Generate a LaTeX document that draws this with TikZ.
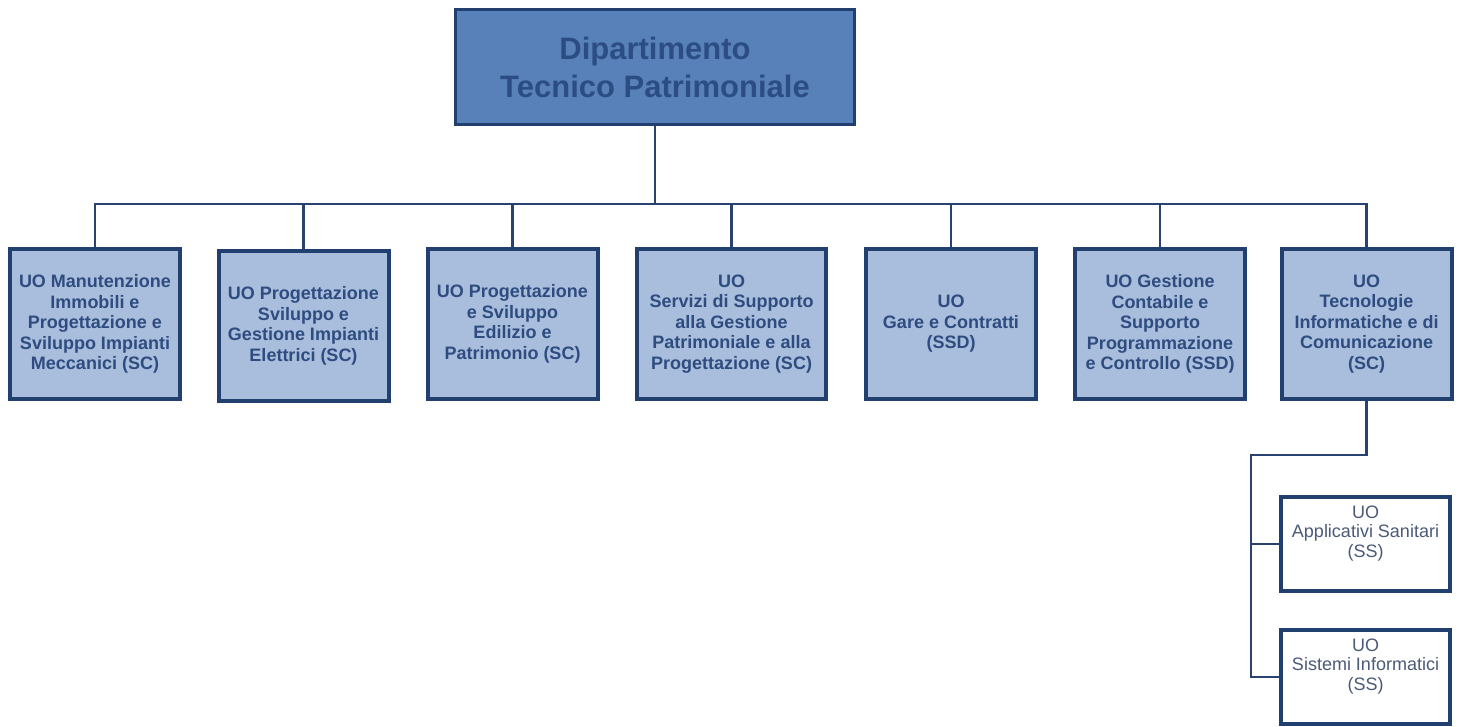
\documentclass[tikz,border=0pt]{standalone}
\usepackage{fontspec}
\setmainfont{Liberation Sans}
\definecolor{deptfill}{HTML}{5881B9}
\definecolor{depttext}{HTML}{2B4D84}
\definecolor{boxline}{HTML}{22406F}
\definecolor{uofill}{HTML}{A9BEDC}
\definecolor{uotext}{HTML}{2E4C80}
\definecolor{sstext}{HTML}{4B5B77}
\definecolor{connline}{HTML}{2A4270}
\begin{document}
\begin{tikzpicture}[x=1pt,y=-1pt,
    dept/.style={draw=boxline,line width=3pt,fill=deptfill,text=depttext,align=center,
        minimum width=399pt,minimum height=115pt,font=\fontsize{31}{38}\selectfont\bfseries},
    uo/.style={draw=boxline,line width=4pt,fill=uofill,text=uotext,align=center,
        minimum width=170pt,minimum height=150pt,inner sep=0pt,font=\fontsize{18}{20.5}\selectfont\bfseries},
    ss/.style={draw=boxline,line width=4pt,fill=white,text=sstext,align=center,
        minimum width=169pt,minimum height=94pt,inner sep=0pt,font=\fontsize{18}{19.5}\selectfont},
    conn/.style={draw=connline,line width=2.2pt}]
                \useasboundingbox (0,0) rectangle (1462,727);
                \node[dept] (dtp) at (655,67) {Dipartimento\\Tecnico Patrimoniale};

                \node[uo] (manut) at (95,324) {UO Manutenzione\\Immobili e\\Progettazione e\\Sviluppo Impianti\\Meccanici (SC)};
                \node[uo] (elettr) at (303.5,326) {UO Progettazione\\Sviluppo e\\Gestione Impianti\\Elettrici (SC)};
                \node[uo] (edil) at (512.5,324) {UO Progettazione\\e Sviluppo\\Edilizio e\\Patrimonio (SC)};
                \node[uo,minimum width=189pt] (servizi) at (731.5,324) {UO\\Servizi di Supporto\\alla Gestione\\Patrimoniale e alla\\Progettazione (SC)};
                \node[uo] (gare) at (951,324) {UO\\Gare e Contratti\\(SSD)};
                \node[uo] (contab) at (1160,324) {UO Gestione\\Contabile e\\Supporto\\Programmazione\\e Controllo (SSD)};
                \node[uo] (tic) at (1366.5,324) {UO\\Tecnologie\\Informatiche e di\\Comunicazione\\(SC)};

                \node[ss] (sanit) at (1365.5,544) {UO\\Applicativi Sanitari\\(SS)\\[6pt]\mbox{}};
                \node[ss] (sistemi) at (1365.5,677) {UO\\Sistemi Informatici\\(SS)\\[6pt]\mbox{}};
                \coordinate (spine) at (1251,455);

                \foreach \uo in {manut,elettr,edil,servizi,gare,contab,tic}
                    \draw[conn] (dtp.south) -- ++(0,78) -| (\uo.north);
                \draw[conn] (tic.south) |- (spine) |- (sanit.west); \draw[conn] (spine) |- (sistemi.west);
            \end{tikzpicture}
\end{document}
